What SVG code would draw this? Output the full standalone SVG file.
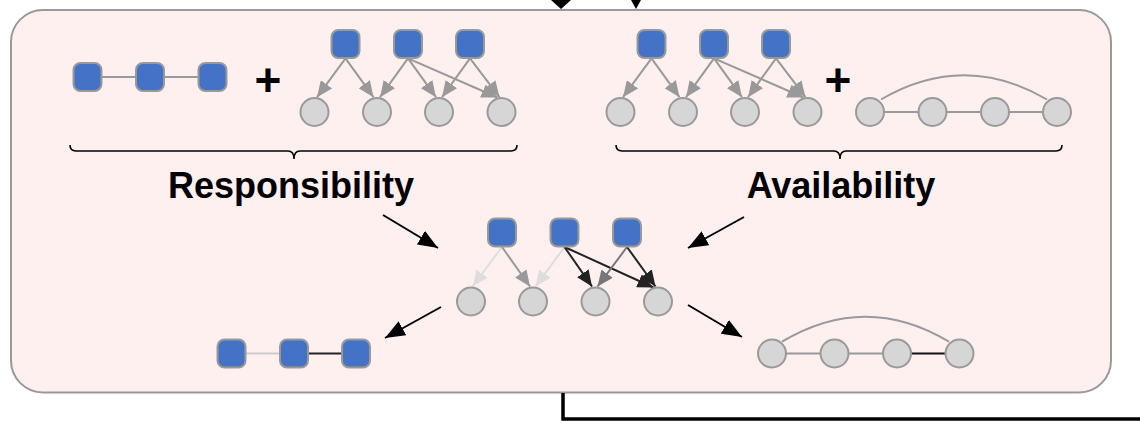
<svg xmlns="http://www.w3.org/2000/svg" width="1140" height="421" viewBox="0 0 1140 421">
<style>
.sq{fill:#4472C4;stroke:#999;stroke-width:2}
.ci{fill:#D6D6D6;stroke:#999;stroke-width:2}
.e{fill:none;stroke-width:2}
.g{stroke:#999}
.l{stroke:#DDD}
.d{stroke:#777}
.k{stroke:#222}
.bk{fill:none;stroke:#000;stroke-width:1.6}
.lbl{font-family:"Liberation Sans",Arial,sans-serif;font-weight:bold;fill:#000}
</style>
<defs>
<marker id="ag" viewBox="0 0 16 14" refX="16" refY="7" markerWidth="16" markerHeight="14" orient="auto" markerUnits="userSpaceOnUse"><path d="M0,0 L16,7 L0,14 z" fill="#999"/></marker>
<marker id="al" viewBox="0 0 16 14" refX="16" refY="7" markerWidth="16" markerHeight="14" orient="auto" markerUnits="userSpaceOnUse"><path d="M0,0 L16,7 L0,14 z" fill="#DDD"/></marker>
<marker id="ad" viewBox="0 0 16 14" refX="16" refY="7" markerWidth="16" markerHeight="14" orient="auto" markerUnits="userSpaceOnUse"><path d="M0,0 L16,7 L0,14 z" fill="#777"/></marker>
<marker id="ak" viewBox="0 0 16 14" refX="16" refY="7" markerWidth="16" markerHeight="14" orient="auto" markerUnits="userSpaceOnUse"><path d="M0,0 L16,7 L0,14 z" fill="#222"/></marker>
<marker id="ab" viewBox="0 0 20 16" refX="20" refY="8" markerWidth="20" markerHeight="16" orient="auto" markerUnits="userSpaceOnUse"><path d="M0,0 L20,8 L0,16 z" fill="#000"/></marker>
</defs>

<g id="container">
<rect x="11" y="10" width="1100" height="382.5" rx="32" ry="32" fill="#FFF0F0" stroke="#999" stroke-width="2"/>
</g>

<g id="connectors">
<polygon points="551,0 571,0 561,9" fill="#000"/>
<polygon points="631,0 641,0 636,9" fill="#000"/>
<path d="M563,393 L563,419 L1140,419" fill="none" stroke="#000" stroke-width="3.5"/>

<line class="e g" x1="101.5" y1="77" x2="136" y2="77"/>
<line class="e g" x1="164" y1="77" x2="198.5" y2="77"/>

<line class="e g" x1="345.5" y1="58.3" x2="317" y2="97.2" marker-end="url(#ag)"/>
<line class="e g" x1="345.5" y1="58.3" x2="373.5" y2="97.2" marker-end="url(#ag)"/>
<line class="e g" x1="408" y1="58.3" x2="380" y2="97.2" marker-end="url(#ag)"/>
<line class="e g" x1="408" y1="58.3" x2="436" y2="97.2" marker-end="url(#ag)"/>
<line class="e g" x1="408" y1="58.3" x2="497.5" y2="97.5" marker-end="url(#ag)"/>
<line class="e g" x1="470" y1="58.3" x2="442" y2="97.2" marker-end="url(#ag)"/>
<line class="e g" x1="470" y1="58.3" x2="499.5" y2="97.2" marker-end="url(#ag)"/>

<line class="e g" x1="651.5" y1="58.3" x2="623" y2="97.2" marker-end="url(#ag)"/>
<line class="e g" x1="651.5" y1="58.3" x2="679.5" y2="97.2" marker-end="url(#ag)"/>
<line class="e g" x1="714" y1="58.3" x2="686" y2="97.2" marker-end="url(#ag)"/>
<line class="e g" x1="714" y1="58.3" x2="742" y2="97.2" marker-end="url(#ag)"/>
<line class="e g" x1="714" y1="58.3" x2="803.5" y2="97.5" marker-end="url(#ag)"/>
<line class="e g" x1="776" y1="58.3" x2="748" y2="97.2" marker-end="url(#ag)"/>
<line class="e g" x1="776" y1="58.3" x2="805.5" y2="97.2" marker-end="url(#ag)"/>

<line class="e g" x1="884.5" y1="112" x2="918" y2="112"/>
<line class="e g" x1="947" y1="112" x2="980.5" y2="112"/>
<line class="e g" x1="1009.5" y1="112" x2="1042.5" y2="112"/>
<path class="e g" d="M881,99.5 Q964,51 1047,99.5"/>

<line class="e l" x1="502" y1="247" x2="472.5" y2="286.5" marker-end="url(#al)"/>
<line class="e g" x1="502" y1="247" x2="530" y2="286.5" marker-end="url(#ag)"/>
<line class="e l" x1="564.5" y1="247" x2="535.5" y2="286.5" marker-end="url(#al)"/>
<line class="e k" x1="564.5" y1="247" x2="592" y2="286.5" marker-end="url(#ak)"/>
<line class="e k" x1="564.5" y1="247" x2="653.5" y2="287.5" marker-end="url(#ak)"/>
<line class="e d" x1="627" y1="247" x2="597.5" y2="286.5" marker-end="url(#ad)"/>
<line class="e k" x1="627" y1="247" x2="655.5" y2="286.5" marker-end="url(#ak)"/>

<line class="e" stroke="#CCC" x1="246" y1="353.5" x2="279.5" y2="353.5"/>
<line class="e k" x1="308.5" y1="353.5" x2="341.5" y2="353.5"/>

<line class="e g" x1="786.5" y1="353.5" x2="820" y2="353.5"/>
<line class="e g" x1="849" y1="353.5" x2="882.5" y2="353.5"/>
<line class="e" stroke="#111" x1="911.5" y1="353.5" x2="945" y2="353.5"/>
<path class="e g" d="M782,341.7 Q865.5,291.7 949,341.7"/>

<line stroke="#000" stroke-width="2" x1="383" y1="215" x2="438" y2="248" marker-end="url(#ab)"/>
<line stroke="#000" stroke-width="2" x1="744" y1="217" x2="688" y2="248" marker-end="url(#ab)"/>
<line stroke="#000" stroke-width="2" x1="441" y1="307" x2="385" y2="338" marker-end="url(#ab)"/>
<line stroke="#000" stroke-width="2" x1="688" y1="305" x2="742" y2="337" marker-end="url(#ab)"/>
</g>

<g id="tl-s1"><rect class="sq" x="73.5" y="63" width="28" height="28" rx="7"/></g>
<g id="tl-s2"><rect class="sq" x="136" y="63" width="28" height="28" rx="7"/></g>
<g id="tl-s3"><rect class="sq" x="198.5" y="63" width="28" height="28" rx="7"/></g>
<g id="plus-left"><text class="lbl" x="268" y="96" font-size="46" text-anchor="middle">+</text></g>

<g id="lb-s1"><rect class="sq" x="331.5" y="30" width="28" height="28" rx="7"/></g>
<g id="lb-s2"><rect class="sq" x="394" y="30" width="28" height="28" rx="7"/></g>
<g id="lb-s3"><rect class="sq" x="456" y="30" width="28" height="28" rx="7"/></g>
<g id="lb-c1"><circle class="ci" cx="314.5" cy="112" r="14"/></g>
<g id="lb-c2"><circle class="ci" cx="377" cy="112" r="14"/></g>
<g id="lb-c3"><circle class="ci" cx="439" cy="112" r="14"/></g>
<g id="lb-c4"><circle class="ci" cx="501.5" cy="112" r="14"/></g>

<g id="rb-s1"><rect class="sq" x="637.5" y="30" width="28" height="28" rx="7"/></g>
<g id="rb-s2"><rect class="sq" x="700" y="30" width="28" height="28" rx="7"/></g>
<g id="rb-s3"><rect class="sq" x="762" y="30" width="28" height="28" rx="7"/></g>
<g id="rb-c1"><circle class="ci" cx="620.5" cy="112" r="14"/></g>
<g id="rb-c2"><circle class="ci" cx="683" cy="112" r="14"/></g>
<g id="rb-c3"><circle class="ci" cx="745" cy="112" r="14"/></g>
<g id="rb-c4"><circle class="ci" cx="807.5" cy="112" r="14"/></g>
<g id="plus-right"><text class="lbl" x="838" y="96" font-size="46" text-anchor="middle">+</text></g>

<g id="tr-c1"><circle class="ci" cx="870" cy="112" r="14"/></g>
<g id="tr-c2"><circle class="ci" cx="932.5" cy="112" r="14"/></g>
<g id="tr-c3"><circle class="ci" cx="995" cy="112" r="14"/></g>
<g id="tr-c4"><circle class="ci" cx="1057" cy="112" r="14"/></g>

<g id="brace-responsibility"><path class="bk" d="M70,145 Q70,151 76,151 L288,151 Q294,151 294,159 Q294,151 300,151 L511,151 Q517,151 517,145"/></g>
<g id="brace-availability"><path class="bk" d="M616,145 Q616,151 622,151 L834,151 Q840,151 840,159 Q840,151 846,151 L1056,151 Q1062,151 1062,145"/></g>
<g id="label-responsibility"><text class="lbl" x="291" y="198" font-size="36" text-anchor="middle">Responsibility</text></g>
<g id="label-availability"><text class="lbl" x="841" y="198" font-size="36" text-anchor="middle">Availability</text></g>

<g id="m-s1"><rect class="sq" x="488" y="218.5" width="28" height="28" rx="7"/></g>
<g id="m-s2"><rect class="sq" x="550.5" y="218.5" width="28" height="28" rx="7"/></g>
<g id="m-s3"><rect class="sq" x="613" y="218.5" width="28" height="28" rx="7"/></g>
<g id="m-c1"><circle class="ci" cx="471" cy="301.5" r="14"/></g>
<g id="m-c2"><circle class="ci" cx="533" cy="301.5" r="14"/></g>
<g id="m-c3"><circle class="ci" cx="595.5" cy="301.5" r="14"/></g>
<g id="m-c4"><circle class="ci" cx="658" cy="301.5" r="14"/></g>

<g id="bl-s1"><rect class="sq" x="217.5" y="339.5" width="28" height="28" rx="7"/></g>
<g id="bl-s2"><rect class="sq" x="280" y="339.5" width="28" height="28" rx="7"/></g>
<g id="bl-s3"><rect class="sq" x="342" y="339.5" width="28" height="28" rx="7"/></g>

<g id="br-c1"><circle class="ci" cx="772" cy="353.5" r="14"/></g>
<g id="br-c2"><circle class="ci" cx="834.5" cy="353.5" r="14"/></g>
<g id="br-c3"><circle class="ci" cx="897" cy="353.5" r="14"/></g>
<g id="br-c4"><circle class="ci" cx="959.5" cy="353.5" r="14"/></g>
</svg>
